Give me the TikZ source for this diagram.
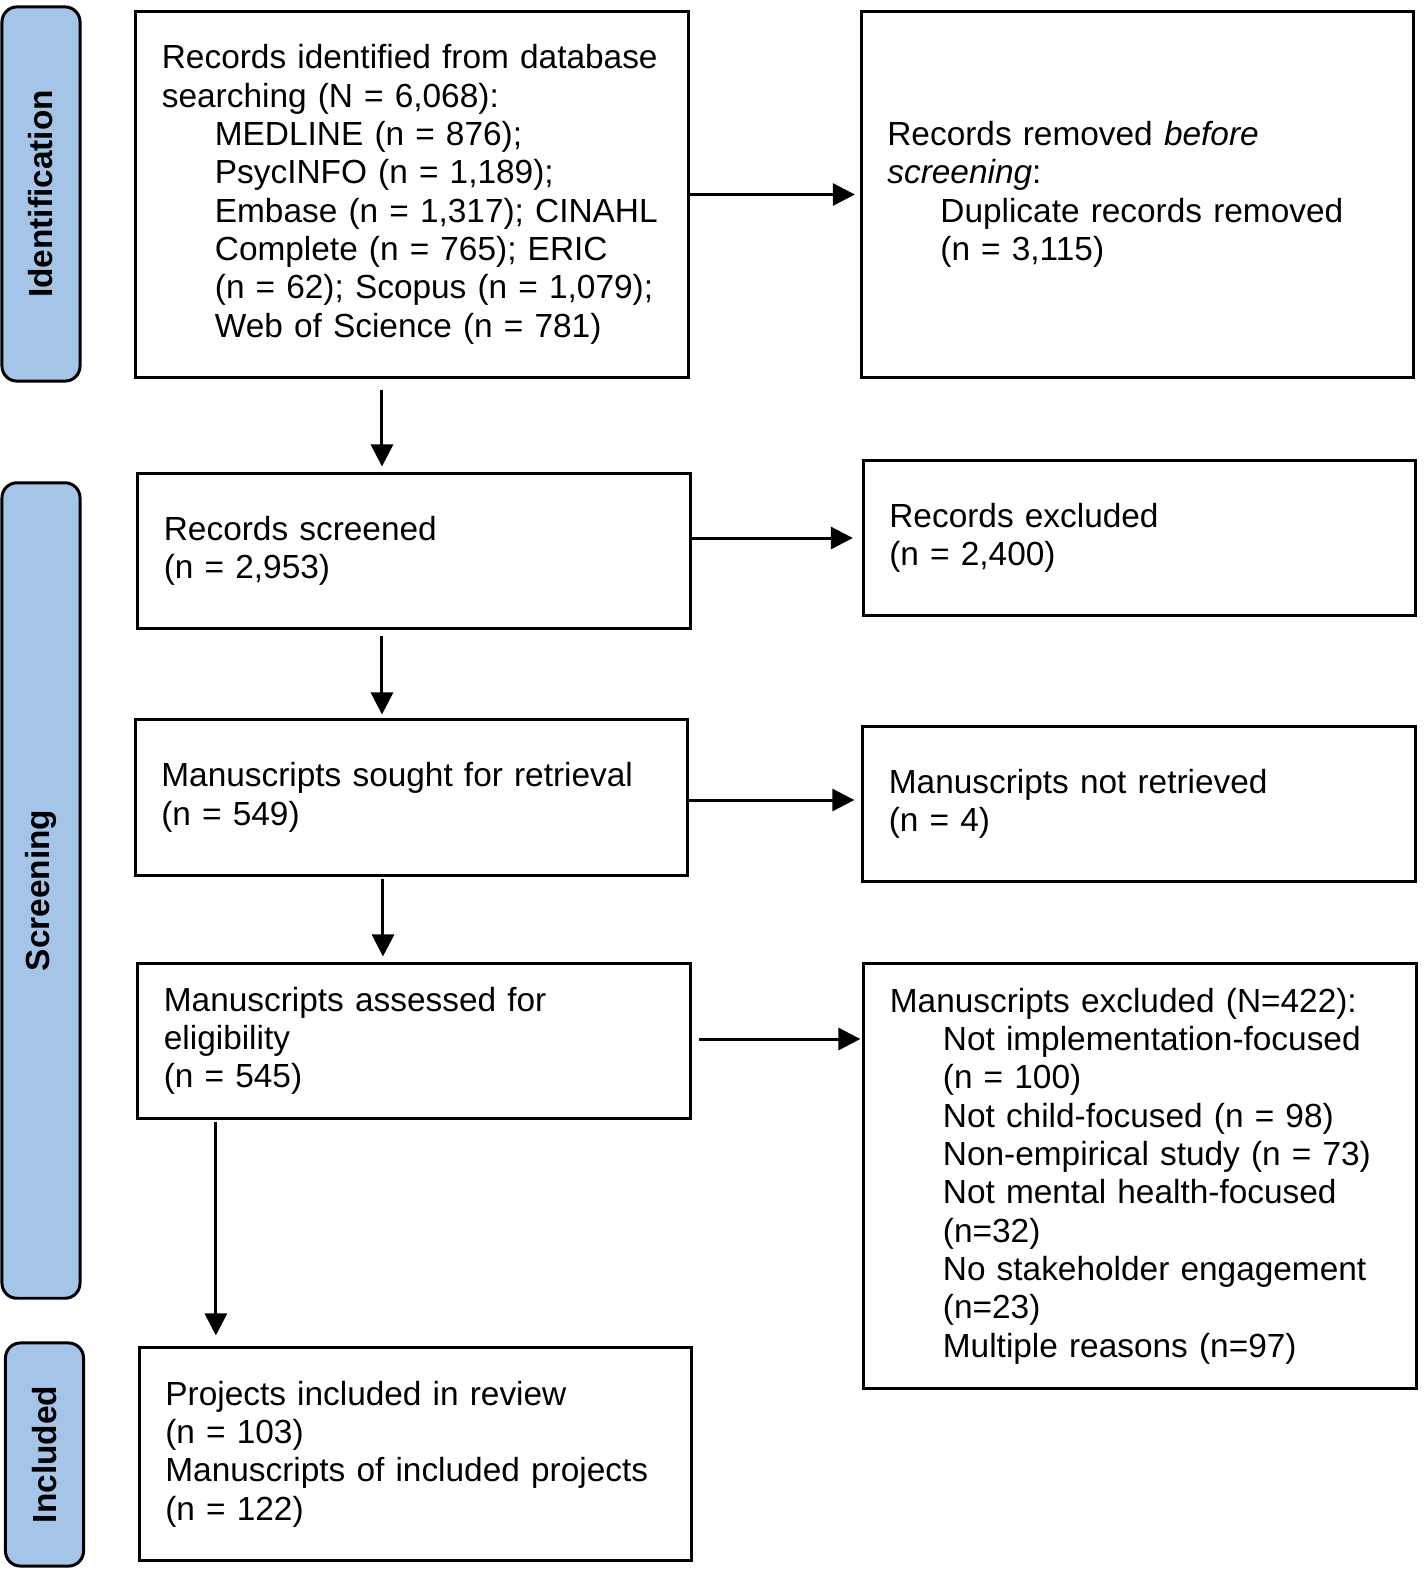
\documentclass[tikz,border=0pt]{standalone}
\usepackage{fontspec}
\setmainfont{Liberation Sans}
\usetikzlibrary{arrows.meta,calc}
\definecolor{stageblue}{RGB}{164,197,232}
\newcommand{\indnt}{\hspace*{0.53cm}}

\begin{document}
\begin{tikzpicture}[
x=0.01cm,
y=-0.01cm,
line width=0.85pt,
flowbox/.style={
  draw,
  text width=5cm,
  inner xsep=0.26cm,
  align=left,
  minimum width=5.52cm,
  font=\fontsize{9.5}{10.9}\selectfont
  },
stage/.style={
  draw,
  rounded corners=0.15cm,
  fill=stageblue,
  rotate=90,
  minimum height=0.78cm,
  font=\bfseries\fontsize{9.5}{10.9}\selectfont
  },
>={Triangle[length=0.22cm,width=0.22cm]}
]
\useasboundingbox (0,0) rectangle (1424,1572);

% stage labels
\node[stage, minimum width=3.74cm] (lident) at (41,194) {Identification};
\node[stage, minimum width=8.15cm] (lscreen) at (41,890.5) {Screening};
\node[stage, minimum width=2.23cm] (lincl) at (44.5,1454.5) {Included};

% left column
\node[flowbox, minimum height=3.65cm] (ident) at (412,194.5)
  {Records identified from database\\
   searching (N = 6,068):\\
   \indnt MEDLINE (n = 876);\\
   \indnt PsycINFO (n = 1,189);\\
   \indnt Embase (n = 1,317); CINAHL\\
   \indnt Complete (n = 765); ERIC\\
   \indnt (n = 62); Scopus (n = 1,079);\\
   \indnt Web of Science (n = 781)};
\node[flowbox, minimum height=1.54cm] (screened) at (414,551)
  {Records screened\\ (n = 2,953)};
\node[flowbox, minimum height=1.55cm] (sought) at (411.5,797.5)
  {Manuscripts sought for retrieval\\ (n = 549)};
\node[flowbox, minimum height=1.54cm] (assessed) at (414,1041)
  {Manuscripts assessed for\\ eligibility\\ (n = 545)};
\node[flowbox, minimum height=2.12cm] (included) at (415.5,1454)
  {Projects included in review\\ (n = 103)\\
   Manuscripts of included projects\\ (n = 122)};

% right column
\node[flowbox, minimum height=3.65cm] (removed) at (1137.5,194.5)
  {Records removed \textit{before}\\
   \textit{screening}:\\
   \indnt Duplicate records removed\\
   \indnt (n = 3,115)};
\node[flowbox, minimum height=1.54cm] (rexcl) at (1139.5,538)
  {Records excluded\\ (n = 2,400)};
\node[flowbox, minimum height=1.54cm] (notret) at (1139,804)
  {Manuscripts not retrieved\\ (n = 4)};
\node[flowbox, minimum height=4.24cm] (mexcl) at (1140,1176)
  {Manuscripts excluded (N=422):\\
   \indnt Not implementation-focused\\
   \indnt (n = 100)\\
   \indnt Not child-focused (n = 98)\\
   \indnt Non-empirical study (n = 73)\\
   \indnt Not mental health-focused\\
   \indnt (n=32)\\
   \indnt No stakeholder engagement\\
   \indnt (n=23)\\
   \indnt Multiple reasons (n=97)};

% downward arrows
\draw[->, shorten <=0.11cm, shorten >=0.06cm] ([xshift=-0.3cm]ident.south)
  -- ([xshift=-0.3cm]ident.south |- screened.north);
\draw[->, shorten <=0.06cm, shorten >=0.04cm] ([xshift=-0.32cm]screened.south)
  -- ([xshift=-0.32cm]screened.south |- sought.north);
\draw[->, shorten <=0.02cm, shorten >=0.06cm] ([xshift=-0.285cm]sought.south)
  -- ([xshift=-0.285cm]sought.south |- assessed.north);
\draw[->, shorten <=0.02cm, shorten >=0.11cm] ([xshift=-1.98cm]assessed.south)
  -- ([xshift=-1.98cm]assessed.south |- included.north);

% sideways arrows
\draw[->, shorten >=0.05cm] (ident.east) -- (ident.east -| removed.west);
\draw[->, shorten >=0.09cm] (screened.east |- rexcl.west) -- (rexcl.west);
\draw[->, shorten >=0.07cm] ([yshift=-0.025cm]sought.east)
  -- ([yshift=-0.025cm]sought.east -| notret.west);
\draw[->, shorten <=0.07cm, shorten >=0.02cm] ([yshift=0.02cm]assessed.east)
  -- ([yshift=0.02cm]assessed.east -| mexcl.west);
\end{tikzpicture}
\end{document}
